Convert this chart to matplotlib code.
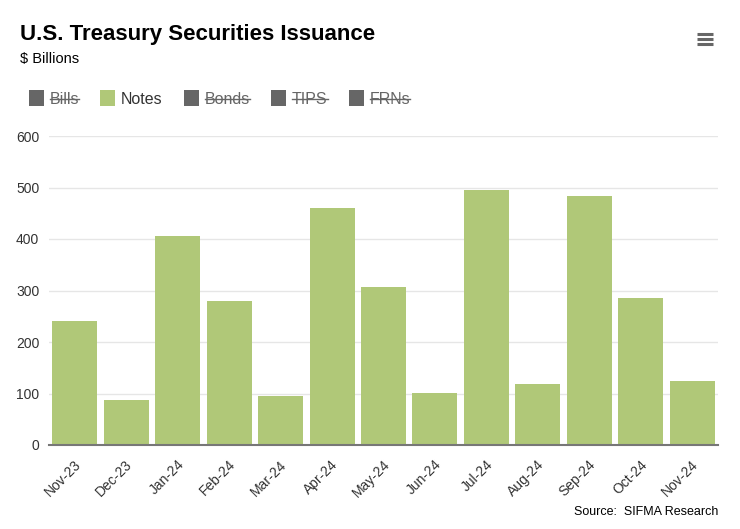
import matplotlib
matplotlib.use("Agg")
import matplotlib.pyplot as plt
import matplotlib.transforms as mtransforms
from matplotlib.patches import Rectangle
from matplotlib.lines import Line2D

# data ($ billions)
months = ["Nov-23", "Dec-23", "Jan-24", "Feb-24", "Mar-24", "Apr-24", "May-24",
          "Jun-24", "Jul-24", "Aug-24", "Sep-24", "Oct-24", "Nov-24"]
notes = [240, 87, 405, 279, 95, 460, 307, 101, 496, 119, 484, 285, 125]

legend_names = ["Bills", "Notes", "Bonds", "TIPS", "FRNs"]
legend_visible = [False, True, False, False, False]

W, H = 740, 529
GREEN = "#b0c878"
plt.rcParams["font.family"] = ["Liberation Sans", "DejaVu Sans"]

fig = plt.figure(figsize=(W / 100, H / 100), dpi=100)

def fx(px):
    return px / W

def fy(py):
    return 1 - py / H

ax = fig.add_axes([fx(49), fy(445), fx(718) - fx(49), fy(136) - fy(445)])
x = range(len(months))
ax.bar(x, notes, width=0.875, color=GREEN, zorder=2)
ax.set_xlim(-0.5, len(months) - 0.5)
ax.set_ylim(0, 600)
ax.set_yticks([0, 100, 200, 300, 400, 500, 600])
ax.yaxis.grid(True, color="#e6e6e6", linewidth=1, zorder=0)
ax.set_axisbelow(True)
for s in ["top", "right", "left"]:
    ax.spines[s].set_visible(False)
ax.spines["bottom"].set_color("#777777")
ax.spines["bottom"].set_linewidth(1.5)
ax.spines["bottom"].set_zorder(3)
ax.tick_params(axis="y", length=0, labelsize=10, labelcolor="#333333", pad=7)
ax.tick_params(axis="x", length=0, labelsize=10, labelcolor="#333333", pad=9)
ax.set_xticks(list(x))
ax.set_xticklabels(months, rotation=45, ha="right", rotation_mode="anchor")
# nudge labels a little left so they end under the bar centre
offset = mtransforms.ScaledTranslation(-1 / 100, 0, fig.dpi_scale_trans)
for lab in ax.get_xticklabels():
    lab.set_transform(lab.get_transform() + offset)

# title / subtitle
fig.text(fx(20), fy(40), "U.S. Treasury Securities Issuance", fontsize=16,
         fontweight="bold", color="#000000", va="baseline", ha="left")
fig.text(fx(20), fy(63), "$ Billions", fontsize=10.5, color="#000000",
         va="baseline", ha="left")

# hamburger menu icon
for yy in [33.5, 38.5, 43.5]:
    fig.add_artist(Line2D([fx(697), fx(713)], [fy(yy), fy(yy)],
                          color="#666666", linewidth=2.2,
                          solid_capstyle="butt"))

# legend drawn by hand (hidden series are struck through)
fig.canvas.draw()
renderer = fig.canvas.get_renderer()
cur = 28.5
base = 104
for name, vis in zip(legend_names, legend_visible):
    col = GREEN if vis else "#666666"
    fig.add_artist(Rectangle((fx(cur), fy(105.5)), fx(15), 15 / H,
                             facecolor=col, edgecolor="none",
                             transform=fig.transFigure))
    t = fig.text(fx(cur + 21), fy(base), name, fontsize=11.5,
                 color="#333333" if vis else "#666666", va="baseline", ha="left")
    tw = t.get_window_extent(renderer).width
    if not vis:
        fig.add_artist(Line2D([fx(cur + 21), fx(cur + 21 + tw)],
                              [fy(base - 5.5), fy(base - 5.5)],
                              color="#666666", linewidth=1))
    cur = cur + 21 + tw + 21

fig.text(fx(718), fy(512), "Source:  SIFMA Research", fontsize=9,
         color="#000000", va="center", ha="right")

fig.savefig("out.png", dpi=100)
